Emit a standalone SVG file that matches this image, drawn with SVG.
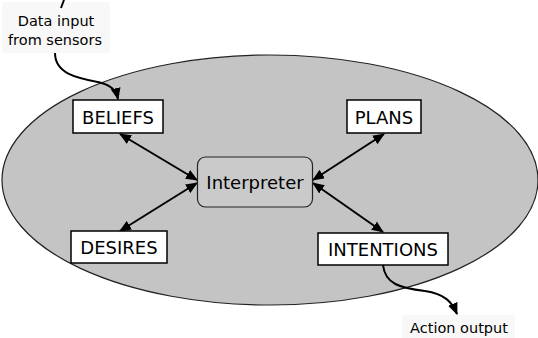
<svg xmlns="http://www.w3.org/2000/svg" width="538" height="338" viewBox="0 0 538 338">
<style>
.box{fill:#ffffff;stroke:#000;stroke-width:1.5}
.lbl{font-family:"DejaVu Sans",Verdana,sans-serif;font-size:18px;fill:#000;text-anchor:middle}
.sm{font-family:"DejaVu Sans",Verdana,sans-serif;font-size:14.5px;fill:#000;text-anchor:middle}
.ln{stroke:#000;stroke-width:2;fill:none}
</style>
<defs>
<marker id="ah" viewBox="0 0 12 10" refX="11" refY="5" markerWidth="12" markerHeight="10" markerUnits="userSpaceOnUse" orient="auto-start-reverse">
<path d="M0,0 L12,5 L0,10 z" fill="#000"/>
</marker>
</defs>
<rect width="538" height="338" fill="#fff"/>
<ellipse cx="270" cy="180" rx="268" ry="125" fill="#c4c4c4" stroke="#222" stroke-width="1.2"/>
<rect x="2" y="2" width="108" height="51" fill="#f8f8f8"/>
<rect x="402" y="315" width="113" height="23" fill="#f8f8f8"/>
<g id="connectors">
<line class="ln" x1="120" y1="134" x2="197" y2="180" marker-start="url(#ah)" marker-end="url(#ah)"/>
<line class="ln" x1="120" y1="231" x2="197" y2="183" marker-start="url(#ah)" marker-end="url(#ah)"/>
<line class="ln" x1="384" y1="134" x2="313" y2="180" marker-start="url(#ah)" marker-end="url(#ah)"/>
<line class="ln" x1="383" y1="232" x2="313" y2="183" marker-start="url(#ah)" marker-end="url(#ah)"/>
<path class="ln" d="M55,53 C55,74 78,78 98,82 C111,85 116,90 118,99" marker-end="url(#ah)"/>
<path class="ln" d="M383,265 C385,284 400,288 425,291 C445,294 452,302 457,314" marker-end="url(#ah)"/>
<path class="ln" d="M64,0 L61,8" stroke-width="2.5"/>
</g>
<g id="beliefs">
<rect class="box" x="73" y="100" width="90" height="33"/>
<text class="lbl" x="118" y="124">BELIEFS</text>
</g>
<g id="plans">
<rect class="box" x="347" y="100" width="74" height="33"/>
<text class="lbl" x="384" y="124">PLANS</text>
</g>
<g id="interpreter">
<rect x="197.5" y="157" width="115" height="50" rx="8" ry="8" fill="#cacaca" stroke="#222" stroke-width="1.2"/>
<text class="lbl" x="255" y="189">Interpreter</text>
</g>
<g id="desires">
<rect class="box" x="71" y="231" width="96" height="32"/>
<text class="lbl" x="119" y="254">DESIRES</text>
</g>
<g id="intentions">
<rect class="box" x="318" y="233" width="130" height="32"/>
<text class="lbl" x="383" y="256">INTENTIONS</text>
</g>
<g id="sensors">
<text class="sm" x="56" y="26">Data input</text>
<text class="sm" x="55" y="45">from sensors</text>
</g>
<g id="action">
<text class="sm" x="459" y="333">Action output</text>
</g>
</svg>
